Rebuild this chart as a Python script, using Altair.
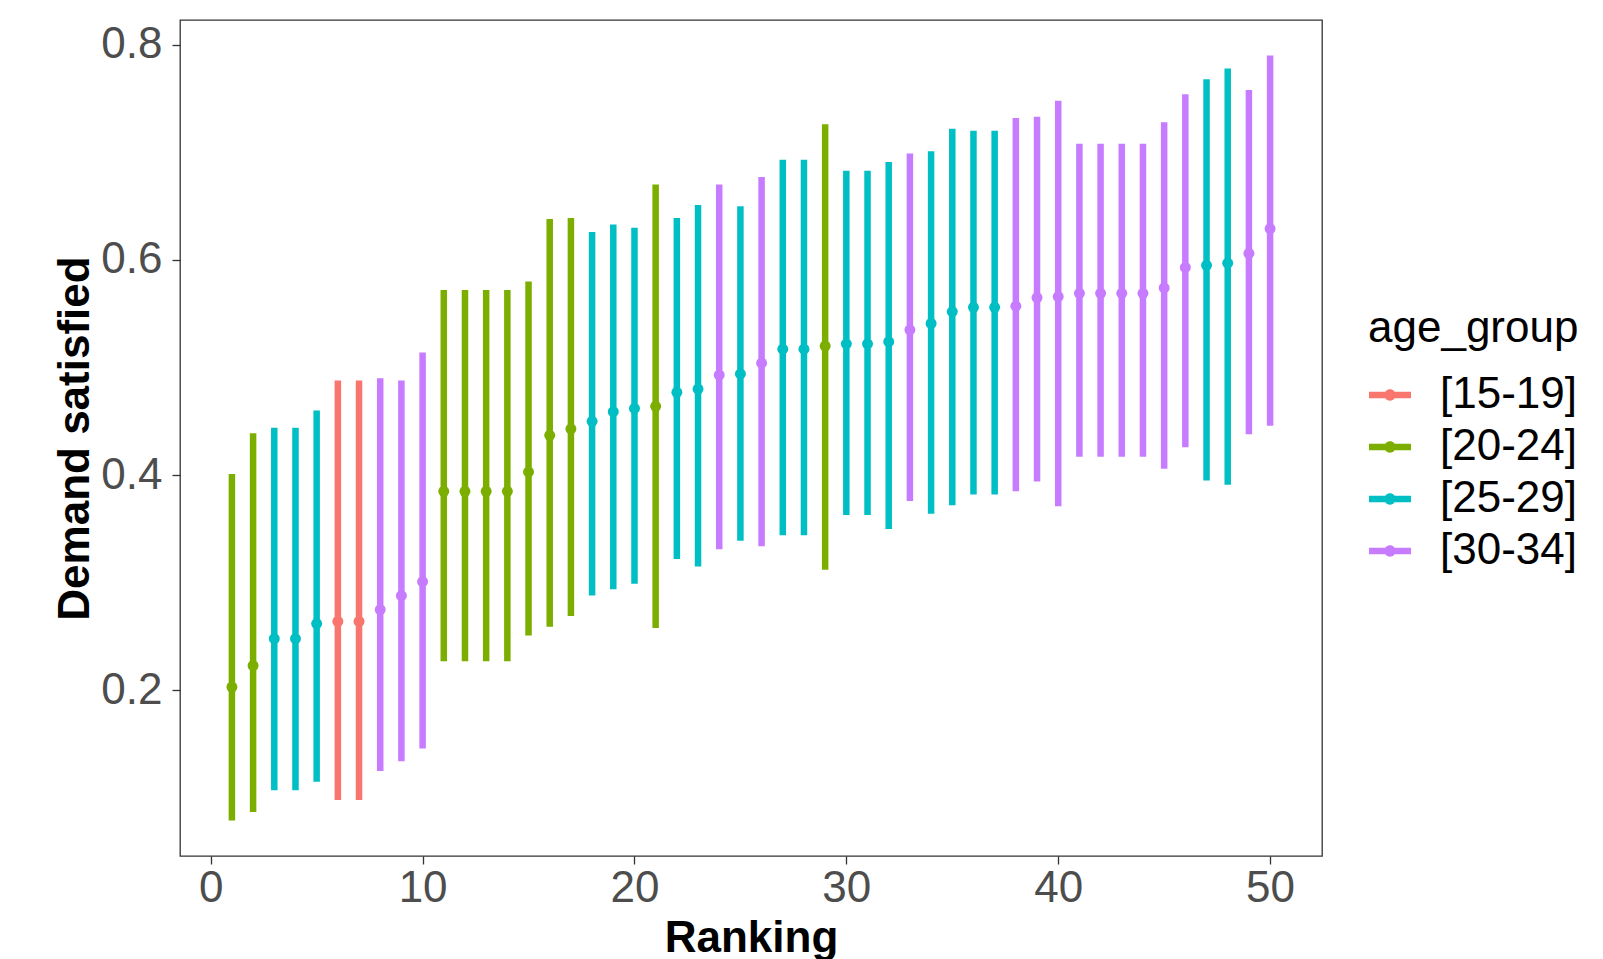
import altair as alt
import pandas as pd

ranking = list(range(1, 51))
age_group = [
    "[20-24]", "[20-24]", "[25-29]", "[25-29]", "[25-29]", "[15-19]", "[15-19]", "[30-34]", "[30-34]", "[30-34]",
    "[20-24]", "[20-24]", "[20-24]", "[20-24]", "[20-24]", "[20-24]", "[20-24]", "[25-29]", "[25-29]", "[25-29]",
    "[20-24]", "[25-29]", "[25-29]", "[30-34]", "[25-29]", "[30-34]", "[25-29]", "[25-29]", "[20-24]", "[25-29]",
    "[25-29]", "[25-29]", "[30-34]", "[25-29]", "[25-29]", "[25-29]", "[25-29]", "[30-34]", "[30-34]", "[30-34]",
    "[30-34]", "[30-34]", "[30-34]", "[30-34]", "[30-34]", "[30-34]", "[25-29]", "[25-29]", "[30-34]", "[30-34]",
]
estimate = [
    0.203, 0.223, 0.248, 0.248, 0.262, 0.264, 0.264, 0.275, 0.288, 0.301,
    0.385, 0.385, 0.385, 0.385, 0.403, 0.437, 0.443, 0.450, 0.459, 0.462,
    0.464, 0.477, 0.480, 0.493, 0.494, 0.504, 0.517, 0.517, 0.520, 0.522,
    0.522, 0.524, 0.535, 0.541, 0.552, 0.556, 0.556, 0.557, 0.565, 0.566,
    0.569, 0.569, 0.569, 0.569, 0.574, 0.593, 0.595, 0.597, 0.606, 0.629,
]
lower = [
    0.079, 0.087, 0.107, 0.107, 0.115, 0.098, 0.098, 0.125, 0.134, 0.146,
    0.227, 0.227, 0.227, 0.227, 0.251, 0.259, 0.269, 0.288, 0.294, 0.299,
    0.258, 0.322, 0.315, 0.331, 0.339, 0.334, 0.344, 0.344, 0.312, 0.363,
    0.363, 0.350, 0.376, 0.364, 0.372, 0.382, 0.382, 0.385, 0.394, 0.371,
    0.417, 0.417, 0.417, 0.417, 0.406, 0.426, 0.395, 0.391, 0.438, 0.446,
]
upper = [
    0.401, 0.439, 0.444, 0.444, 0.460, 0.488, 0.488, 0.490, 0.488, 0.514,
    0.572, 0.572, 0.572, 0.572, 0.580, 0.638, 0.639, 0.626, 0.633, 0.630,
    0.670, 0.639, 0.651, 0.670, 0.650, 0.677, 0.693, 0.693, 0.726, 0.683,
    0.683, 0.691, 0.699, 0.701, 0.722, 0.720, 0.720, 0.732, 0.733, 0.748,
    0.708, 0.708, 0.708, 0.708, 0.728, 0.754, 0.768, 0.778, 0.758, 0.790,
]

groups = ["[15-19]", "[20-24]", "[25-29]", "[30-34]"]
colors = ["#F8766D", "#7CAE00", "#00BFC4", "#C77CFF"]
x_ticks = [0, 10, 20, 30, 40, 50]
y_ticks = [0.2, 0.4, 0.6, 0.8]

df = pd.DataFrame({
    "ranking": ranking,
    "age_group": age_group,
    "estimate": estimate,
    "lower": lower,
    "upper": upper,
})

FONT = "Liberation Sans"

x_scale = alt.Scale(domain=[-1.45, 52.45], nice=False, zero=False)
y_scale = alt.Scale(domain=[0.046, 0.823], nice=False, zero=False)
x_axis = alt.Axis(values=x_ticks, title="Ranking", labelPadding=2,
                  titleY=95, titleBaseline="alphabetic")
y_axis = alt.Axis(values=y_ticks, format=".1f", title="Demand satisfied",
                  labelPadding=10, titleX=-92, titleBaseline="alphabetic")
color_scale = alt.Scale(domain=groups, range=colors)

symbol_path = ("M-1,-0.16H1V0.16H-1Z "
               "M-0.27,0A0.27,0.27,0,1,1,0.27,0A0.27,0.27,0,1,1,-0.27,0Z")

legend = alt.Legend(
    title="age_group",
    orient="none",
    legendX=1188,
    legendY=287,
    symbolType=symbol_path,
    symbolSize=1764,
    symbolStrokeWidth=0,
    symbolOpacity=1,
    labelOffset=28,
    rowPadding=8,
    titlePadding=22,
    titleLimit=500,
    labelLimit=400,
    padding=0,
)

points = alt.Chart(df).mark_point(filled=True, size=120, opacity=1).encode(
    x=alt.X("ranking:Q", scale=x_scale, axis=x_axis),
    y=alt.Y("estimate:Q", scale=y_scale, axis=y_axis),
    color=alt.Color("age_group:N", scale=color_scale, legend=legend),
)

rules = alt.Chart(df).mark_rule(strokeWidth=6.5, strokeCap="butt").encode(
    x=alt.X("ranking:Q", scale=x_scale, axis=x_axis),
    y=alt.Y("lower:Q", scale=y_scale, axis=y_axis),
    y2="upper:Q",
    color=alt.Color("age_group:N", scale=color_scale, legend=legend),
)

chart = alt.layer(points, rules).properties(
    width=1142,
    height=836,
    autosize=alt.AutoSizeParams(type="none"),
    padding={"left": 180, "top": 20, "right": 281, "bottom": 103},
    background="white",
).configure_view(
    stroke="#333333", strokeWidth=1.3
).configure_axis(
    grid=False,
    domain=False,
    labelFont=FONT,
    labelFontSize=44,
    labelColor="#4D4D4D",
    tickColor="#333333",
    tickSize=8,
    tickWidth=1.3,
    titleFont=FONT,
    titleFontSize=44,
    titleFontWeight="bold",
    titleColor="black",
).configure_legend(
    titleFont=FONT,
    titleFontSize=44,
    titleFontWeight="normal",
    titleColor="black",
    labelFont=FONT,
    labelFontSize=44,
    labelColor="black",
)

chart.save("out.html", embed_options={"renderer": "svg", "actions": False})
